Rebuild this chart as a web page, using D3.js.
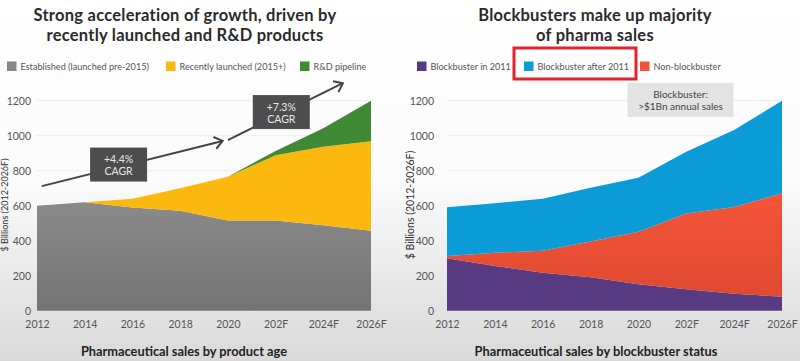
<!DOCTYPE html>
<html>
<head>
<meta charset="utf-8">
<script src="https://cdn.jsdelivr.net/npm/d3@7"></script>
<style>
  html, body { margin: 0; padding: 0; background: #fff; }
  svg { display: block; font-family: Lato, "Open Sans", sans-serif; }
</style>
</head>
<body>
<svg id="chart" width="800" height="361"></svg>
<script>
// ---- data ----
const years = ["2012", "2014", "2016", "2018", "2020", "202F", "2024F", "2026F"];
const yTicks = [0, 200, 400, 600, 800, 1000, 1200];

// Left chart: sales by product age ($ billions)
const established = [600, 620, 590, 571, 515, 515, 488, 457];
const recentlyLaunched = [0, 0, 50, 129, 251, 373, 449, 511];
const rdPipeline = [0, 0, 0, 0, 0, 25, 105, 232];

// Right chart: sales by blockbuster status ($ billions)
const blockbuster2011 = [300, 256, 217, 191, 151, 122, 97, 80];
const nonBlockbuster = [12, 75, 126, 205, 300, 434, 496, 591];
const blockbusterAfter2011 = [279, 283, 297, 307, 309, 353, 440, 529];

const leftSeries = [
  { name: "Established (launched pre-2015)", values: established, color: "url(#gGray)", swatch: "#888888" },
  { name: "Recently launched (2015+)", values: recentlyLaunched, color: "#fbb90f", swatch: "#fbb90f" },
  { name: "R&D pipeline", values: rdPipeline, color: "#418a35", swatch: "#418a35" }
];
const rightSeries = [
  { name: "Blockbuster in 2011", values: blockbuster2011, color: "#573a82", swatch: "#573a82" },
  { name: "Non-blockbuster", values: nonBlockbuster, color: "url(#gRed)", swatch: "#ef5337" },
  { name: "Blockbuster after 2011", values: blockbusterAfter2011, color: "#0b9bd7", swatch: "#0b9bd7" }
];
const rightLegendOrder = ["Blockbuster in 2011", "Blockbuster after 2011", "Non-blockbuster"];

// annotations (in data coordinates: category index, value)
const cagrArrows = [
  { from: [0.1, 712], to: [3.89, 970], label: ["+4.4%", "CAGR"], box: [1.71, 835] },
  { from: [4.0, 975], to: [6.41, 1300], label: ["+7.3%", "CAGR"], box: [5.12, 1135] }
];

const svg = d3.select("#chart");
const defs = svg.append("defs");

// background gradient
const bg = defs.append("linearGradient").attr("id", "gBg").attr("x1", 0).attr("y1", 0).attr("x2", 0).attr("y2", 1);
bg.append("stop").attr("offset", "0%").attr("stop-color", "#ffffff");
bg.append("stop").attr("offset", "50%").attr("stop-color", "#fbfbfb");
bg.append("stop").attr("offset", "100%").attr("stop-color", "#d9d9d9");
const gg = defs.append("linearGradient").attr("id", "gGray").attr("x1", 0).attr("y1", 0).attr("x2", 0).attr("y2", 1);
gg.append("stop").attr("offset", "0%").attr("stop-color", "#8a8a8a");
gg.append("stop").attr("offset", "100%").attr("stop-color", "#747474");
const gr = defs.append("linearGradient").attr("id", "gRed").attr("x1", 0).attr("y1", 0).attr("x2", 0).attr("y2", 1);
gr.append("stop").attr("offset", "0%").attr("stop-color", "#f55538");
gr.append("stop").attr("offset", "100%").attr("stop-color", "#de4a30");

svg.append("rect").attr("width", 800).attr("height", 361).attr("fill", "url(#gBg)");

const yTop = 100.7, yBottom = 310.7;

function drawPanel(opts) {
  const g = svg.append("g");
  const x = d3.scalePoint().domain(years).range([opts.x0, opts.x1]);
  const y = d3.scaleLinear().domain([0, 1200]).range([yBottom, yTop]);
  const step = x.step();
  const xi = i => opts.x0 + i * step;

  // gridlines
  g.append("g").selectAll("line").data(yTicks).join("line")
    .attr("x1", opts.x0).attr("x2", opts.x1)
    .attr("y1", d => y(d)).attr("y2", d => y(d))
    .attr("stroke", "#ececec").attr("stroke-width", 1);

  // stacked areas
  const rows = years.map((yr, i) => {
    const r = { year: yr };
    opts.series.forEach(s => r[s.name] = s.values[i]);
    return r;
  });
  const stack = d3.stack().keys(opts.series.map(s => s.name));
  const stacked = stack(rows);
  const area = d3.area().x(d => x(d.data.year)).y0(d => y(d[0])).y1(d => y(d[1]));
  g.append("g").selectAll("path").data(stacked).join("path")
    .attr("d", area)
    .attr("fill", (d, i) => opts.series[i].color);

  // y axis
  const ya = g.append("g").attr("transform", `translate(${opts.yLabelX},0)`)
    .call(d3.axisLeft(y).tickValues(yTicks).tickSize(0).tickPadding(0).tickFormat(d3.format("d")));
  ya.select(".domain").remove();
  ya.selectAll("text").attr("fill", "#555").attr("font-size", 10.5).attr("font-family", "Lato, sans-serif");

  // x axis
  const xa = g.append("g").attr("transform", `translate(0,${yBottom + 9})`)
    .call(d3.axisBottom(x).tickSize(0).tickPadding(0));
  xa.select(".domain").remove();
  xa.selectAll("text").attr("fill", "#555").attr("font-size", 10.5).attr("font-family", "Lato, sans-serif").attr("dy", "0.75em");

  // y title
  g.append("text")
    .attr("transform", `translate(${opts.yTitleX},205) rotate(-90)`)
    .attr("text-anchor", "middle").attr("dy", "0.35em")
    .attr("font-size", opts.yTitleSize).attr("fill", "#333")
    .text("$ Billions (2012-2026F)");

  // titles
  const tc = opts.titleCx;
  opts.title.forEach((t, i) => {
    g.append("text").attr("x", tc).attr("y", 21 + i * 20)
      .attr("text-anchor", "middle").attr("font-weight", 700).attr("font-size", 16.5)
      .attr("letter-spacing", 0.25)
      .attr("fill", "#2a2a2a").text(t);
  });
  g.append("text").attr("x", opts.bottomCx).attr("y", 356)
    .attr("text-anchor", "middle").attr("font-weight", 700).attr("font-size", 12.8)
    .attr("fill", "#222").text(opts.bottomTitle);

  // legend
  const legOrder = opts.legendOrder.map(n => opts.series.find(s => s.name === n));
  legOrder.forEach((s, i) => {
    const lx = opts.legendX[i];
    g.append("rect").attr("x", lx).attr("y", 61.5).attr("width", 9.5).attr("height", 9.5).attr("fill", s.swatch);
    g.append("text").attr("x", lx + 13.5).attr("y", 66.5).attr("dy", "0.35em")
      .attr("font-size", 9.1).attr("fill", "#555").text(s.name);
  });

  return { g, x, y, xi };
}

// ---- left panel ----
const L = drawPanel({
  x0: 37, x1: 371, yLabelX: 31, yTitleX: 5, yTitleSize: 9,
  series: leftSeries, legendOrder: leftSeries.map(s => s.name),
  legendX: [7, 166, 300],
  title: ["Strong acceleration of growth, driven by", "recently launched and R&D products"],
  titleCx: 185, bottomCx: 184, bottomTitle: "Pharmaceutical sales by product age"
});

// CAGR arrows
cagrArrows.forEach(a => {
  const x1 = L.xi(a.from[0]), y1 = L.y(a.from[1]);
  const x2 = L.xi(a.to[0]), y2 = L.y(a.to[1]);
  L.g.append("line").attr("x1", x1).attr("y1", y1).attr("x2", x2).attr("y2", y2)
    .attr("stroke", "#444").attr("stroke-width", 2);
  const ang = Math.atan2(y2 - y1, x2 - x1);
  const len = 10, spread = 0.65;
  const p = [
    [x2 - len * Math.cos(ang - spread), y2 - len * Math.sin(ang - spread)],
    [x2, y2],
    [x2 - len * Math.cos(ang + spread), y2 - len * Math.sin(ang + spread)]
  ];
  L.g.append("path").attr("d", d3.line()(p)).attr("fill", "none")
    .attr("stroke", "#444").attr("stroke-width", 2);
  const cx = L.xi(a.box[0]), cy = L.y(a.box[1]);
  L.g.append("rect").attr("x", cx - 28.5).attr("y", cy - 17).attr("width", 57).attr("height", 34)
    .attr("fill", "#4d4d4d");
  a.label.forEach((t, i) => {
    L.g.append("text").attr("x", cx).attr("y", cy - 5 + i * 12).attr("dy", "0.35em")
      .attr("text-anchor", "middle").attr("font-size", 10.5).attr("fill", "#e8e8e8").text(t);
  });
});

// ---- right panel ----
const R = drawPanel({
  x0: 447, x1: 782, yLabelX: 434, yTitleX: 410, yTitleSize: 10.5,
  series: rightSeries, legendOrder: rightLegendOrder,
  legendX: [417, 524, 640],
  title: ["Blockbusters make up majority", "of pharma sales"],
  titleCx: 595, bottomCx: 596, bottomTitle: "Pharmaceutical sales by blockbuster status"
});

// blockbuster note box
{
  const cx = R.xi(4.88), cy = R.y(1204);
  R.g.append("rect").attr("x", cx - 53).attr("y", cy - 17).attr("width", 106).attr("height", 34)
    .attr("fill", "#e3e3e3");
  ["Blockbuster:", ">$1Bn annual sales"].forEach((t, i) => {
    R.g.append("text").attr("x", cx).attr("y", cy - 6 + i * 12).attr("dy", "0.35em")
      .attr("text-anchor", "middle").attr("font-size", 10).attr("fill", "#444").text(t);
  });
}

// red highlight around "Blockbuster after 2011" legend entry
svg.append("rect").attr("x", 514).attr("y", 48).attr("width", 122).attr("height", 31)
  .attr("fill", "none").attr("stroke", "#e3222b").attr("stroke-width", 3);
</script>
</body>
</html>
